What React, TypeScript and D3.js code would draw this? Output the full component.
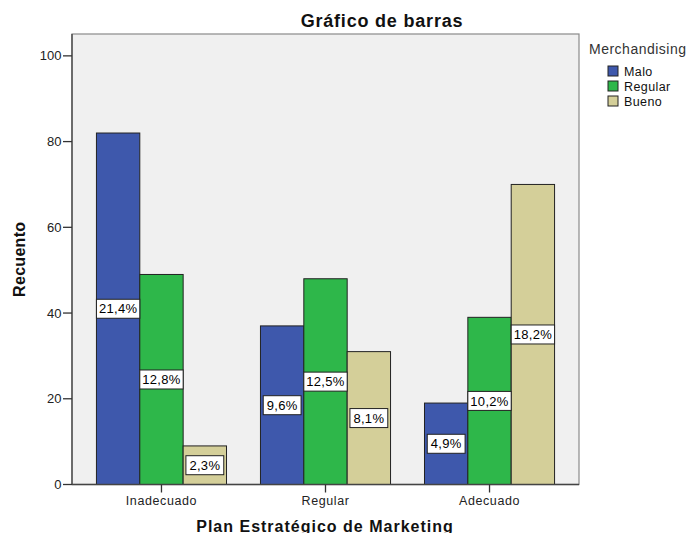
import React from "react";
import * as d3 from "d3";

const categories = ["Inadecuado", "Regular", "Adecuado"];
const seriesNames = ["Malo", "Regular", "Bueno"];
const maloValues = [82, 37, 19];
const regularValues = [49, 48, 39];
const buenoValues = [9, 31, 70];
const percentLabels = [
  ["21,4%", "9,6%", "4,9%"],
  ["12,8%", "12,5%", "10,2%"],
  ["2,3%", "8,1%", "18,2%"],
];
const yTicks = [0, 20, 40, 60, 80, 100];
const colors = ["#3E58AC", "#2EB74A", "#D4CF99"];

const W = 694;
const H = 533;
const plot = { left: 72, right: 579, top: 34, bottom: 484.5 };
const FONT = "'Liberation Sans', Arial, sans-serif";

let ctx: CanvasRenderingContext2D | null = null;
function textWidth(s: string, size: number, spacing: number) {
  if (!ctx) ctx = document.createElement("canvas").getContext("2d");
  if (!ctx) return s.length * size * 0.55;
  ctx.font = `${size}px ${FONT}`;
  return ctx.measureText(s).width + spacing * s.length;
}

export default function App() {
  const seriesValues = [maloValues, regularValues, buenoValues];
  const x0 = d3
    .scaleBand<string>()
    .domain(categories)
    .range([plot.left, plot.right])
    .paddingInner(0.207)
    .paddingOuter(0.149);
  const x1 = d3
    .scaleBand<string>()
    .domain(seriesNames)
    .range([0, x0.bandwidth()])
    .padding(0);
  const y = d3.scaleLinear().domain([0, 105.1]).range([plot.bottom, plot.top]);

  const bars: React.ReactNode[] = [];
  const labels: React.ReactNode[] = [];
  seriesNames.forEach((s, si) => {
    categories.forEach((c, ci) => {
      const v = seriesValues[si][ci];
      const bx = (x0(c) as number) + (x1(s) as number);
      const bw = x1.bandwidth();
      const by = y(v);
      bars.push(
        <rect
          key={`b-${si}-${ci}`}
          x={bx}
          y={by}
          width={bw}
          height={y(0) - by}
          fill={colors[si]}
          stroke="#222"
          strokeWidth={1}
        />
      );
      const lbl = percentLabels[si][ci];
      const tw = textWidth(lbl, 13, 0.3);
      const boxW = Math.min(bw, tw + 7);
      const cy = (by + y(0)) / 2;
      const cx = bx + bw / 2;
      labels.push(
        <g key={`l-${si}-${ci}`}>
          <rect
            x={cx - boxW / 2}
            y={cy - 9.5}
            width={boxW}
            height={19}
            fill="#fff"
            stroke="#222"
            strokeWidth={1}
          />
          <text
            x={cx}
            y={cy + 4.6}
            textAnchor="middle"
            fontSize={13}
            letterSpacing={0.3}
            fontFamily={FONT}
            fill="#000"
          >
            {lbl}
          </text>
        </g>
      );
    });
  });

  return (
    <svg
      width={W}
      height={H}
      style={{ position: "absolute", left: 0, top: 0, background: "#fff" }}
    >
      <rect
        x={plot.left}
        y={plot.top}
        width={plot.right - plot.left}
        height={plot.bottom - plot.top}
        fill="#F0F0F0"
        stroke="#8a8a8a"
        strokeWidth={1.2}
      />
      {bars}
      <line x1={plot.left} x2={plot.left} y1={plot.top} y2={plot.bottom} stroke="#444" strokeWidth={1.3} />
      <line x1={plot.left} x2={plot.right} y1={plot.bottom} y2={plot.bottom} stroke="#444" strokeWidth={1.3} />
      {yTicks.map((t) => (
        <g key={`yt-${t}`}>
          <line x1={plot.left - 9} x2={plot.left} y1={y(t)} y2={y(t)} stroke="#333" strokeWidth={1.3} />
          <text
            x={plot.left - 10.5}
            y={y(t) + 4.6}
            textAnchor="end"
            fontSize={13}
            letterSpacing={0}
            fontFamily={FONT}
            fill="#222"
          >
            {t}
          </text>
        </g>
      ))}
      {categories.map((c) => {
        const cx = (x0(c) as number) + x0.bandwidth() / 2;
        return (
          <g key={`xt-${c}`}>
            <line x1={cx} x2={cx} y1={plot.bottom} y2={plot.bottom + 8} stroke="#333" strokeWidth={1.3} />
            <text
              x={cx}
              y={504.5}
              textAnchor="middle"
              fontSize={12.5}
              letterSpacing={0.6}
              fontFamily={FONT}
              fill="#222"
            >
              {c}
            </text>
          </g>
        );
      })}
      {labels}
      <text
        x={382}
        y={26.5}
        textAnchor="middle"
        fontSize={18}
        fontWeight="bold"
        letterSpacing={0.8}
        fontFamily={FONT}
        fill="#111"
      >
        Gráfico de barras
      </text>
      <text
        x={325}
        y={531.5}
        textAnchor="middle"
        fontSize={16}
        fontWeight="bold"
        letterSpacing={1}
        fontFamily={FONT}
        fill="#111"
      >
        Plan Estratégico de Marketing
      </text>
      <text
        transform={`translate(25,${(plot.top + plot.bottom) / 2}) rotate(-90)`}
        textAnchor="middle"
        fontSize={16}
        fontWeight="bold"
        letterSpacing={0.3}
        fontFamily={FONT}
        fill="#111"
      >
        Recuento
      </text>
      <text x={589} y={54} fontSize={14} letterSpacing={0.5} fontFamily={FONT} fill="#333">
        Merchandising
      </text>
      {seriesNames.map((s, i) => (
        <g key={`lg-${s}`}>
          <rect
            x={608}
            y={66 + i * 15}
            width={10}
            height={10}
            fill={colors[i]}
            stroke="#222"
            strokeWidth={1}
          />
          <text
            x={624}
            y={75.5 + i * 15}
            fontSize={12.5}
            letterSpacing={0.4}
            fontFamily={FONT}
            fill="#111"
          >
            {s}
          </text>
        </g>
      ))}
    </svg>
  );
}
